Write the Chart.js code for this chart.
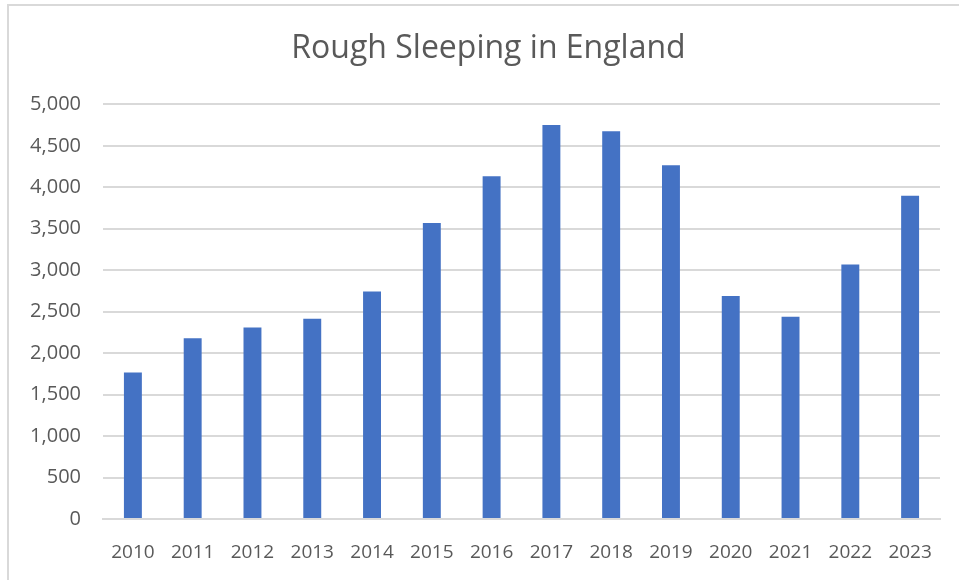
<!DOCTYPE html>
<html>
<head>
<meta charset="utf-8">
<script src="https://cdn.jsdelivr.net/npm/chart.js@4.4.1/dist/chart.umd.min.js"></script>
<style>
  html, body { margin: 0; padding: 0; background: #ffffff; }
  #wrap { width: 959px; height: 580px; position: relative; }
</style>
</head>
<body>
<div id="wrap"><canvas id="chart" width="959" height="580"></canvas></div>
<script>
// Rough sleeping counts, England (autumn snapshot)
const years = ['2010','2011','2012','2013','2014','2015','2016','2017','2018','2019','2020','2021','2022','2023'];
const roughSleepers = [1768, 2181, 2309, 2414, 2744, 3569, 4134, 4751, 4677, 4266, 2688, 2440, 3069, 3898];
const yTicks = [0, 500, 1000, 1500, 2000, 2500, 3000, 3500, 4000, 4500, 5000];

const textGrey = '#595959';
const gridGrey = '#d9d9d9';
const fontFamily = "'Open Sans', 'Noto Sans', sans-serif";

// thin frame along the top and left edges of the chart box
const framePlugin = {
  id: 'frame',
  afterLayout(chart) {
    // centre the title over the whole chart box rather than the padded area
    if (chart.titleBlock) {
      chart.titleBlock.left = 18;
      chart.titleBlock.right = chart.width;
    }
  },
  beforeDraw(chart) {
    const ctx = chart.ctx;
    ctx.save();
    ctx.fillStyle = '#ffffff';
    ctx.fillRect(0, 0, chart.width, chart.height);
    ctx.strokeStyle = '#d9d9d9';
    ctx.lineWidth = 2;
    ctx.beginPath();
    ctx.moveTo(8, chart.height);
    ctx.lineTo(8, 5);
    ctx.lineTo(chart.width, 5);
    ctx.stroke();
    ctx.restore();
  }
};

new Chart(document.getElementById('chart'), {
  type: 'bar',
  data: {
    labels: years,
    datasets: [{
      label: 'Rough Sleeping',
      data: roughSleepers,
      backgroundColor: '#4472c4',
      borderWidth: 0,
      categoryPercentage: 1,
      barPercentage: 0.30
    }]
  },
  options: {
    responsive: false,
    animation: false,
    layout: { padding: { left: 0, right: 19, top: 0, bottom: 0 } },
    plugins: {
      legend: { display: false },
      tooltip: { enabled: false },
      title: {
        display: true,
        text: 'Rough Sleeping in England',
        color: textGrey,
        font: { family: fontFamily, size: 32, weight: 'normal' },
        padding: { top: 30, bottom: 36 }
      }
    },
    scales: {
      x: {
        grid: { display: false },
        border: { display: true, color: gridGrey, width: 2 },
        ticks: {
          color: textGrey,
          font: { family: fontFamily, size: 19 },
          padding: 14,
          maxRotation: 0
        },
        afterFit(scale) { scale.height = 61; }
      },
      y: {
        min: 0,
        max: 5000,
        border: { display: false },
        grid: { color: gridGrey, lineWidth: 2, drawTicks: false },
        afterBuildTicks(scale) { scale.ticks = yTicks.map(v => ({ value: v })); },
        ticks: {
          color: textGrey,
          font: { family: fontFamily, size: 20 },
          padding: 22,
          callback: v => v.toLocaleString('en-GB')
        },
        afterFit(scale) { scale.width = 103; }
      }
    }
  },
  plugins: [framePlugin]
});
</script>
</body>
</html>
